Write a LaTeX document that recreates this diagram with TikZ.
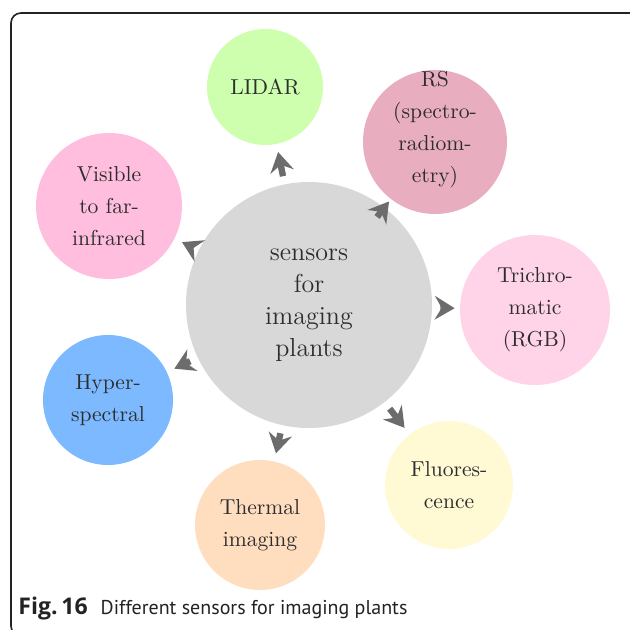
\documentclass[tikz,border=0pt]{standalone}
\usepackage{fontspec}
\newfontfamily\capfont{PT Sans}
\newfontfamily\capboldfont{Open Sans}
\usetikzlibrary{arrows.meta,calc}
\definecolor{hub}{RGB}{216,216,216}
\definecolor{clidar}{RGB}{205,255,175}
\definecolor{crs}{RGB}{232,174,192}
\definecolor{ctri}{RGB}{255,212,232}
\definecolor{cfluo}{RGB}{255,250,212}
\definecolor{ctherm}{RGB}{255,222,192}
\definecolor{chyper}{RGB}{125,185,255}
\definecolor{cvis}{RGB}{255,190,222}
\definecolor{arrgray}{RGB}{108,108,108}
\definecolor{txt}{RGB}{45,45,45}
\definecolor{framecol}{RGB}{35,35,35}
\begin{document}
\begin{tikzpicture}[x=0.5pt,y=-0.5pt,
  bubble/.style={circle, inner sep=0pt, text=txt, align=center,
    font=\fontsize{10.8}{16}\selectfont},
  bubbletext/.style={inner sep=0pt, text=txt, align=center,
    font=\fontsize{10.8}{16}\selectfont},
  arr/.style={draw=arrgray, line width=3.2pt,
    -{Stealth[length=10pt,width=12pt,inset=3.5pt,line width=0pt]},
    shorten <=4pt, shorten >=4pt}]
\useasboundingbox (0,0) rectangle (630,630);
% outer frame, open to the right and bottom
\begin{scope}
  \clip (0,0) rectangle (630,630);
  \draw[framecol, line width=0.8pt, rounded corners=5pt] (11,13) rectangle (660,636);
\end{scope}

% hub
\node[bubble, fill=hub, minimum size=123pt, font=\fontsize{13}{16}\selectfont]
  (c) at (309,305) {sensors\\for\\imaging\\plants};

% satellites
\node[bubble, fill=clidar, minimum size=58pt] (lidar) at (265,87) {LIDAR};
\node[bubble, fill=crs, minimum size=72pt] (rs) at (435,142) {};
\node[bubbletext] (rstext) at (435,130) {RS\\(spectro-\\radiom-\\etry)};
\node[bubble, fill=ctri, minimum size=75pt] (tri) at (535,310) {Trichro-\\matic\\(RGB)};
\node[bubble, fill=cfluo, minimum size=64pt] (fluo) at (449,485) {Fluores-\\cence};
\node[bubble, fill=ctherm, minimum size=65pt] (therm) at (260,525) {Thermal\\imaging};
\node[bubble, fill=chyper, minimum size=65pt] (hyper) at (108,400) {Hyper-\\spectral};
\node[bubble, fill=cvis, minimum size=73pt] (vis) at (109,206) {Visible\\to far-\\infrared};

% arrows from hub to each sensor
\draw[arr] (c) -- (lidar);
\draw[arr, shorten <=0pt, shorten >=0pt] ($(c.center)!0.54!(rs.center)$) -- ($(c.center)!0.635!(rs.center)$);
\draw[arr, shorten >=2.5pt] (c) -- (tri);
\draw[arr] (c) -- (fluo);
\draw[arr] (c) -- (therm);
\draw[arr] (c) -- (hyper);
\draw[arr] (c) -- (vis);

% caption
\node[anchor=base west, inner sep=0pt, text=framecol,
  font=\capfont\fontsize{10}{13}\selectfont] (cap) at (18,614)
  {{\capboldfont\bfseries\fontsize{11.5}{13}\selectfont Fig.\,16}\hspace{6.5pt}Different sensors for imaging plants};
\end{tikzpicture}
\end{document}
